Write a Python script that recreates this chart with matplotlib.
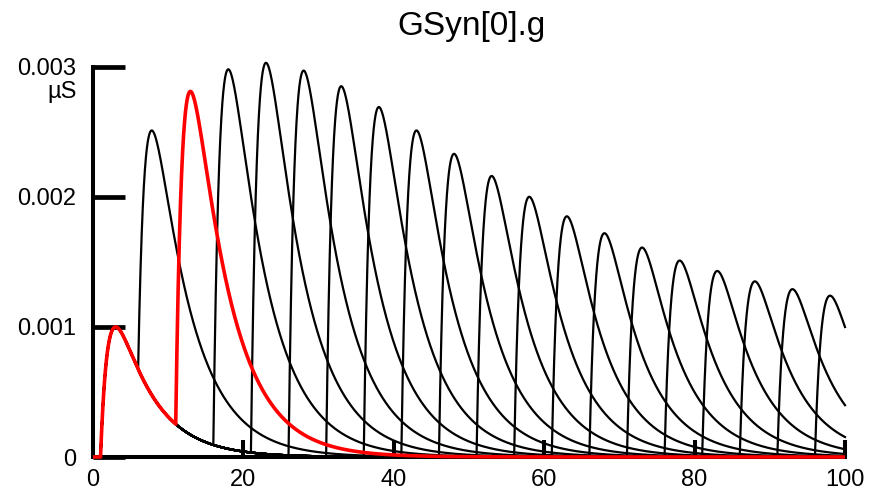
import numpy as np
import matplotlib
matplotlib.use("Agg")
import matplotlib.pyplot as plt

# ---- data ----
first_onset = 1.0          # ms, first synaptic event (shared by all runs)
first_peak = 0.001         # uS
onsets = [6, 11, 16, 21, 26, 31, 36, 41, 46, 51, 56, 61, 66, 71, 76, 81, 86, 91, 96]
peaks = [0.00251, 0.00281, 0.00298, 0.00303, 0.00297, 0.00285, 0.00269, 0.00251,
         0.00233, 0.00216, 0.00200, 0.00185, 0.00172, 0.00161, 0.00151, 0.00143,
         0.00135, 0.00129, 0.00124]
red_index = 1              # the current run, drawn in red
tau_rise = 1.0
tau_decay = 5.0
xticks = [0, 20, 40, 60, 80, 100]
xticklabels = ["0", "20", "40", "60", "80", "100"]
yticks = [0, 0.001, 0.002, 0.003]
yticklabels = ["0", "0.001", "0.002", "0.003"]
title = "GSyn[0].g"
unit = "µS"

plt.rcParams["font.family"] = ["Liberation Sans", "DejaVu Sans"]

tp = tau_rise * tau_decay / (tau_decay - tau_rise) * np.log(tau_decay / tau_rise)
norm = np.exp(-tp / tau_decay) - np.exp(-tp / tau_rise)


def kernel(t, onset):
    s = t - onset
    s = np.where(s > 0, s, 0.0)
    return (np.exp(-s / tau_decay) - np.exp(-s / tau_rise)) / norm


t = np.linspace(0, 100, 5001)
base = first_peak * kernel(t, first_onset)

traces = []
for onset, pk in zip(onsets, peaks):
    amp = pk
    for _ in range(5):
        tr = base + amp * kernel(t, onset)
        amp += pk - tr[t >= onset].max()
    traces.append(base + amp * kernel(t, onset))

fig = plt.figure(figsize=(8.78, 4.92), dpi=100)
W, H = 878, 492
x0, x100 = 93, 845
y0_top = 457
px_per_unit = (457 - 66.7) / 0.003
ymax = 0.0032
ax = fig.add_axes([x0 / W, (H - y0_top) / H, (x100 - x0) / W,
                   ymax * px_per_unit / H])

for i, tr in enumerate(traces):
    if i != red_index:
        ax.plot(t, tr, color="black", lw=1.6, zorder=2, clip_on=False)
ax.plot(t, traces[red_index], color="red", lw=2.6, zorder=4, clip_on=False,
        solid_capstyle="butt")

ax.set_xlim(0, 100)
ax.set_ylim(0, ymax)
for s in ["top", "right"]:
    ax.spines[s].set_visible(False)
ax.spines["left"].set_bounds(0, 0.003)
ax.spines["bottom"].set_bounds(0, 100)
ax.spines["left"].set_linewidth(2.9)
ax.spines["bottom"].set_linewidth(2.9)
ax.spines["left"].set_zorder(3)
ax.spines["bottom"].set_zorder(3)

ax.set_xticks(xticks)
ax.set_xticklabels(xticklabels)
ax.set_yticks(yticks)
ax.set_yticklabels(yticklabels)
ax.tick_params(axis="x", direction="in", length=12, width=2.9, pad=9, labelsize=17)
ax.tick_params(axis="y", direction="in", length=23, width=3.4, pad=12, labelsize=17)
ax.patch.set_visible(False)

ax.annotate(unit, xy=(0, 0.003), xycoords="data", xytext=(-11.5, -18),
            textcoords="offset points", ha="right", va="center", fontsize=17)

fig.text(471.7 / W, 1 - 35 / H, title, ha="center", va="baseline", fontsize=24)

fig.savefig("out.png", dpi=100)
